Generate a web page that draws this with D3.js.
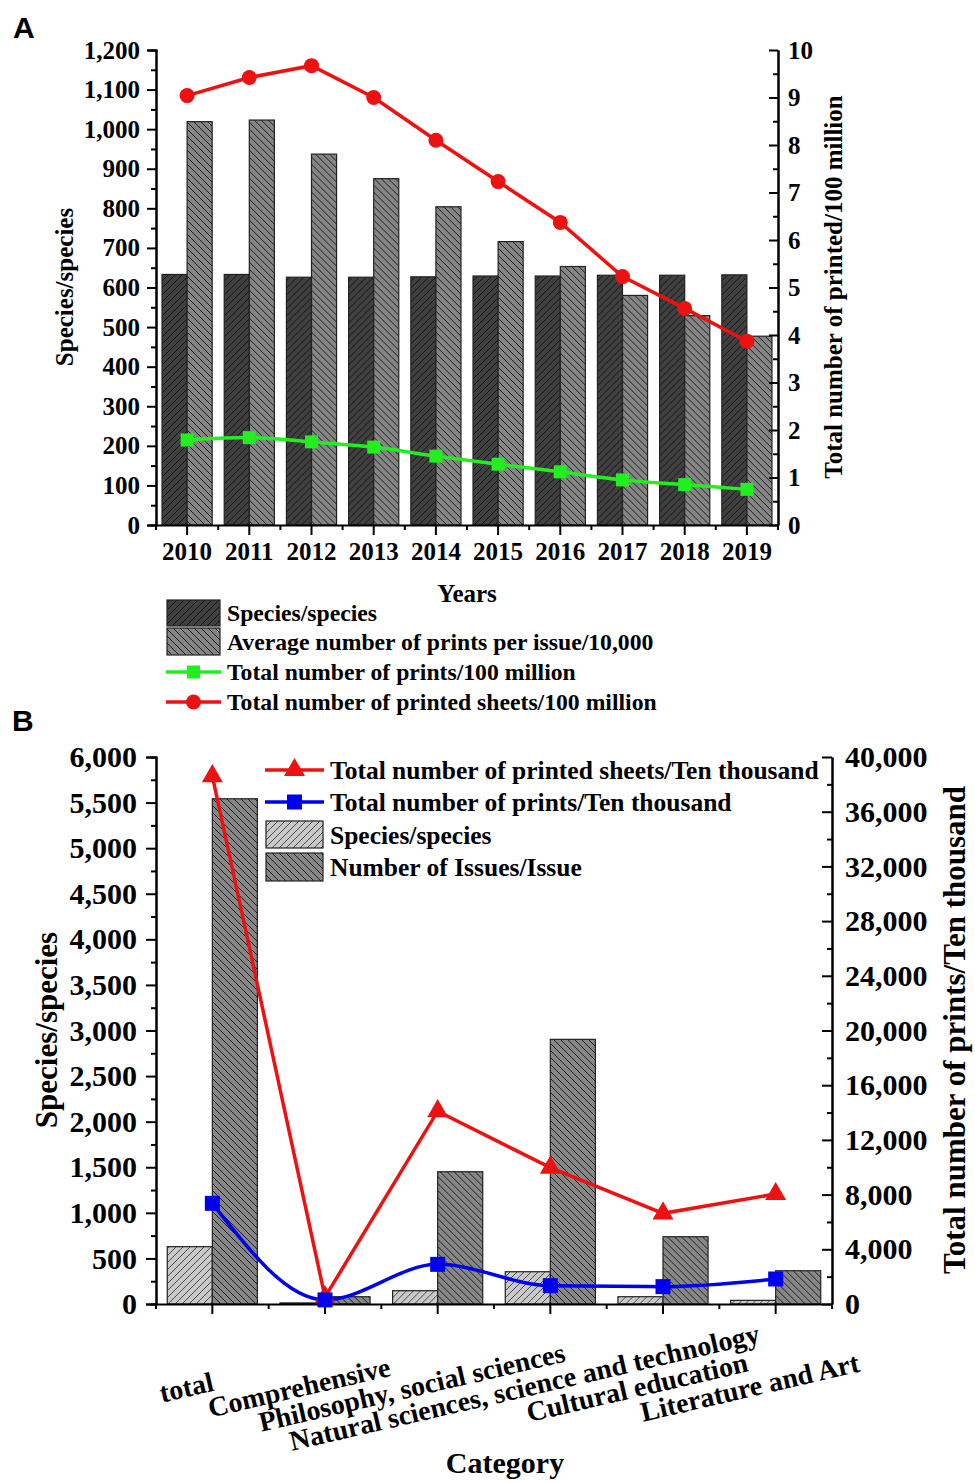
<!DOCTYPE html>
<html>
<head>
<meta charset="utf-8">
<script src="https://cdn.jsdelivr.net/npm/d3@7"></script>
<style>
body { margin: 0; background: #fff; }
svg { display: block; }
text { font-family: "Liberation Serif", "Times New Roman", serif; font-weight: bold; fill: #000; }
</style>
</head>
<body>
<svg id="chart" width="975" height="1483"></svg>
<script>
// ---- panel A data ----
var years = ["2010","2011","2012","2013","2014","2015","2016","2017","2018","2019"];
var speciesA = [633, 633, 626, 626, 627, 629, 629, 631, 631, 632];
var avgPrintsA = [1019, 1023, 937, 875, 804, 716, 653, 580, 529, 477];
var totalPrintsA = [1.79, 1.84, 1.75, 1.64, 1.45, 1.28, 1.12, 0.95, 0.85, 0.75];
var printedSheetsA = [9.04, 9.42, 9.67, 9.00, 8.10, 7.23, 6.37, 5.23, 4.56, 3.87];
var leftTicksA = [0,100,200,300,400,500,600,700,800,900,1000,1100,1200];
var rightTicksA = [0,1,2,3,4,5,6,7,8,9,10];

// ---- panel B data ----
var categories = ["total", "Comprehensive", "Philosophy, social sciences",
  "Natural sciences, science and technology", "Cultural education", "Literature and Art"];
var speciesB = [629, 12, 146, 354, 80, 40];
var issuesB = [5542, 80, 1451, 2903, 738, 365];
var printedSheetsB = [38600, 500, 14100, 9970, 6630, 8040];
var totalPrintsB = [7360, 300, 2900, 1340, 1270, 1830];
var leftTicksB = [0,500,1000,1500,2000,2500,3000,3500,4000,4500,5000,5500,6000];
var rightTicksB = [0,4000,8000,12000,16000,20000,24000,28000,32000,36000,40000];

var svg = d3.select("#chart");
var defs = svg.append("defs");

function hatch(id, bg, fg, size, forward) {
  var p = defs.append("pattern").attr("id", id)
    .attr("patternUnits", "userSpaceOnUse")
    .attr("width", size).attr("height", size);
  p.append("rect").attr("width", size).attr("height", size).attr("fill", bg);
  var d = forward
    ? "M-1,1 l2,-2 M0," + size + " l" + size + ",-" + size + " M" + (size - 1) + "," + (size + 1) + " l2,-2"
    : "M-1," + (size - 1) + " l2,2 M0,0 l" + size + "," + size + " M" + (size - 1) + ",-1 l2,2";
  p.append("path").attr("d", d).attr("stroke", fg).attr("stroke-width", 1);
}
hatch("hDarkA", "#404040", "#151515", 7, true);
hatch("hGreyA", "#858585", "#1e1e1e", 7, false);
hatch("hLightB", "#c9c9c9", "#4a4a4a", 7, true);
hatch("hGreyB", "#878787", "#1e1e1e", 7, false);

function styleAxis(g, fs) {
  g.selectAll(".domain").attr("stroke", "#000").attr("stroke-width", 2);
  g.selectAll(".tick line").attr("stroke", "#000").attr("stroke-width", 2);
  g.selectAll(".tick text").attr("font-size", fs)
    .attr("font-family", "Liberation Serif, Times New Roman, serif").attr("font-weight", "bold");
  g.attr("font-family", null).attr("font-size", null);
}
function minors(ticks) {
  var out = [];
  for (var i = 0; i < ticks.length - 1; i++) out.push((ticks[i] + ticks[i + 1]) / 2);
  return out;
}

// ================= PANEL A =================
var A = { left: 156, right: 778, top: 50, bottom: 525 };
var xA = d3.scaleBand().domain(years).range([A.left, A.right]);
var xA1 = d3.scaleBand().domain(["s", "a"]).range([0, xA.bandwidth()]).paddingOuter(0.24);
var yA = d3.scaleLinear().domain([0, 1200]).range([A.bottom, A.top]);
var yAR = d3.scaleLinear().domain([0, 10]).range([A.bottom, A.top]);

var gA = svg.append("g");
var barsA = gA.selectAll(".yr").data(years).enter().append("g")
  .attr("transform", function(d) { return "translate(" + xA(d) + ",0)"; });
barsA.append("rect")
  .attr("x", xA1("s")).attr("width", xA1.bandwidth())
  .attr("y", function(d, i) { return yA(speciesA[i]); })
  .attr("height", function(d, i) { return A.bottom - yA(speciesA[i]); })
  .attr("fill", "url(#hDarkA)").attr("stroke", "#222").attr("stroke-width", 1.2);
barsA.append("rect")
  .attr("x", xA1("a")).attr("width", xA1.bandwidth())
  .attr("y", function(d, i) { return yA(avgPrintsA[i]); })
  .attr("height", function(d, i) { return A.bottom - yA(avgPrintsA[i]); })
  .attr("fill", "url(#hGreyA)").attr("stroke", "#222").attr("stroke-width", 1.2);

// axes A
var axLA = gA.append("g").attr("transform", "translate(" + A.left + ",0)")
  .call(d3.axisLeft(yA).tickValues(leftTicksA).tickSize(9).tickPadding(7).tickFormat(d3.format(",")));
styleAxis(axLA, 25);
var axLAm = gA.append("g").attr("transform", "translate(" + A.left + ",0)")
  .call(d3.axisLeft(yA).tickValues(minors(leftTicksA)).tickSize(5).tickFormat(""));
styleAxis(axLAm, 25);
var axRA = gA.append("g").attr("transform", "translate(" + A.right + ",0)")
  .call(d3.axisRight(yAR).tickValues(rightTicksA).tickSizeInner(-9).tickSizeOuter(0).tickPadding(10));
styleAxis(axRA, 25);
var axRAm = gA.append("g").attr("transform", "translate(" + A.right + ",0)")
  .call(d3.axisRight(yAR).tickValues(minors(rightTicksA)).tickSizeInner(-5).tickSizeOuter(0).tickFormat(""));
styleAxis(axRAm, 25);
var axBA = gA.append("g").attr("transform", "translate(0," + A.bottom + ")")
  .call(d3.axisBottom(xA).tickSize(10).tickSizeOuter(0));
styleAxis(axBA, 25);
axBA.selectAll(".tick text").attr("dy", null).attr("y", 35);
var bndA = years.map(function(d) { return xA(d); }).concat([A.right]);
gA.selectAll(".mtA").data(bndA).enter().append("line")
  .attr("x1", function(d) { return d; }).attr("x2", function(d) { return d; })
  .attr("y1", A.bottom).attr("y2", A.bottom + 5).attr("stroke", "#000").attr("stroke-width", 2);

// lines A
var cx = function(d, i) { return xA(years[i]) + xA.bandwidth() / 2; };
var greenLine = d3.line().x(cx).y(function(d) { return yAR(d); }).curve(d3.curveMonotoneX);
var redLine = d3.line().x(cx).y(function(d) { return yAR(d); });
gA.append("path").attr("d", greenLine(totalPrintsA)).attr("fill", "none")
  .attr("stroke", "#22ee22").attr("stroke-width", 3.5);
gA.selectAll(".gsq").data(totalPrintsA).enter().append("rect")
  .attr("x", function(d, i) { return cx(d, i) - 6.5; }).attr("y", function(d) { return yAR(d) - 6.5; })
  .attr("width", 13).attr("height", 13).attr("fill", "#22ee22");
gA.append("path").attr("d", redLine(printedSheetsA)).attr("fill", "none")
  .attr("stroke", "#ee1111").attr("stroke-width", 3.5);
gA.selectAll(".rc").data(printedSheetsA).enter().append("circle")
  .attr("cx", cx).attr("cy", function(d) { return yAR(d); }).attr("r", 7.5).attr("fill", "#ee1111");

// titles A
svg.append("text").attr("x", 13).attr("y", 38).attr("font-size", 30)
  .style("font-family", "Liberation Sans, Arial, sans-serif").text("A");
svg.append("text").attr("transform", "translate(73,287) rotate(-90)")
  .attr("text-anchor", "middle").attr("font-size", 25).text("Species/species");
svg.append("text").attr("transform", "translate(842,287) rotate(-90)")
  .attr("text-anchor", "middle").attr("font-size", 25).text("Total number of printed/100 million");
svg.append("text").attr("x", 467).attr("y", 602).attr("text-anchor", "middle")
  .attr("font-size", 25).text("Years");

// legend A
var legA = svg.append("g");
legA.append("rect").attr("x", 167).attr("y", 600).attr("width", 53).attr("height", 26)
  .attr("fill", "url(#hDarkA)").attr("stroke", "#222").attr("stroke-width", 1.2);
legA.append("rect").attr("x", 167).attr("y", 628).attr("width", 53).attr("height", 27)
  .attr("fill", "url(#hGreyA)").attr("stroke", "#222").attr("stroke-width", 1.2);
legA.append("line").attr("x1", 166).attr("x2", 221).attr("y1", 672).attr("y2", 672)
  .attr("stroke", "#22ee22").attr("stroke-width", 3.5);
legA.append("rect").attr("x", 187).attr("y", 665.5).attr("width", 13).attr("height", 13).attr("fill", "#22ee22");
legA.append("line").attr("x1", 166).attr("x2", 221).attr("y1", 702).attr("y2", 702)
  .attr("stroke", "#ee1111").attr("stroke-width", 3.5);
legA.append("circle").attr("cx", 193.5).attr("cy", 702).attr("r", 7.5).attr("fill", "#ee1111");
var legAText = ["Species/species", "Average number of prints per issue/10,000",
  "Total number of prints/100 million", "Total number of printed sheets/100 million"];
var legAY = [613, 642, 672, 702];
legA.selectAll(".lt").data(legAText).enter().append("text")
  .attr("x", 227).attr("y", function(d, i) { return legAY[i]; }).attr("dy", "0.35em")
  .attr("font-size", 23.7).text(function(d) { return d; });

// ================= PANEL B =================
var B = { left: 156, right: 832, top: 757, bottom: 1304 };
var xB = d3.scaleBand().domain(categories).range([B.left, B.right]);
var xB1 = d3.scaleBand().domain(["s", "n"]).range([0, xB.bandwidth()]).paddingOuter(0.25);
var yB = d3.scaleLinear().domain([0, 6000]).range([B.bottom, B.top]);
var yBR = d3.scaleLinear().domain([0, 40000]).range([B.bottom, B.top]);

var gB = svg.append("g");
var barsB = gB.selectAll(".cat").data(categories).enter().append("g")
  .attr("transform", function(d) { return "translate(" + xB(d) + ",0)"; });
barsB.append("rect")
  .attr("x", xB1("s")).attr("width", xB1.bandwidth())
  .attr("y", function(d, i) { return yB(speciesB[i]); })
  .attr("height", function(d, i) { return B.bottom - yB(speciesB[i]); })
  .attr("fill", "url(#hLightB)").attr("stroke", "#222").attr("stroke-width", 1.2);
barsB.append("rect")
  .attr("x", xB1("n")).attr("width", xB1.bandwidth())
  .attr("y", function(d, i) { return yB(issuesB[i]); })
  .attr("height", function(d, i) { return B.bottom - yB(issuesB[i]); })
  .attr("fill", "url(#hGreyB)").attr("stroke", "#222").attr("stroke-width", 1.2);

var axLB = gB.append("g").attr("transform", "translate(" + B.left + ",0)")
  .call(d3.axisLeft(yB).tickValues(leftTicksB).tickSize(10).tickPadding(9).tickFormat(d3.format(",")));
styleAxis(axLB, 30);
var axLBm = gB.append("g").attr("transform", "translate(" + B.left + ",0)")
  .call(d3.axisLeft(yB).tickValues(minors(leftTicksB)).tickSize(5).tickFormat(""));
styleAxis(axLBm, 30);
var axRB = gB.append("g").attr("transform", "translate(" + B.right + ",0)")
  .call(d3.axisRight(yBR).tickValues(rightTicksB).tickSizeInner(-10).tickSizeOuter(0).tickPadding(13).tickFormat(d3.format(",")));
styleAxis(axRB, 30);
var axRBm = gB.append("g").attr("transform", "translate(" + B.right + ",0)")
  .call(d3.axisRight(yBR).tickValues(minors(rightTicksB)).tickSizeInner(-5).tickSizeOuter(0).tickFormat(""));
styleAxis(axRBm, 30);
var axBB = gB.append("g").attr("transform", "translate(0," + B.bottom + ")")
  .call(d3.axisBottom(xB).tickSize(10).tickSizeOuter(0).tickFormat(""));
styleAxis(axBB, 28);
var bndB = categories.map(function(d) { return xB(d); }).concat([B.right]);
gB.selectAll(".mtB").data(bndB).enter().append("line")
  .attr("x1", function(d) { return d; }).attr("x2", function(d) { return d; })
  .attr("y1", B.bottom).attr("y2", B.bottom + 5).attr("stroke", "#000").attr("stroke-width", 2);

// category labels, rotated
gB.selectAll(".cl").data(categories).enter().append("text")
  .attr("transform", function(d) {
    return "translate(" + (xB(d) + xB.bandwidth() / 2 - 26) + ",1387) rotate(-13)";
  })
  .attr("text-anchor", "middle").attr("dy", "0.35em").attr("font-size", 28)
  .text(function(d) { return d; });

// lines B
var cxB = function(d, i) { return xB(categories[i]) + xB.bandwidth() / 2; };
var blueLine = d3.line().x(cxB).y(function(d) { return yBR(d); }).curve(d3.curveMonotoneX);
var redLineB = d3.line().x(cxB).y(function(d) { return yBR(d); });
gB.append("path").attr("d", redLineB(printedSheetsB)).attr("fill", "none")
  .attr("stroke", "#ee1111").attr("stroke-width", 3.5);
gB.append("path").attr("d", blueLine(totalPrintsB)).attr("fill", "none")
  .attr("stroke", "#0000ee").attr("stroke-width", 3.5);
var tri = d3.symbol().type(d3.symbolTriangle).size(190);
gB.selectAll(".tri").data(printedSheetsB).enter().append("path")
  .attr("d", tri)
  .attr("transform", function(d, i) { return "translate(" + cxB(d, i) + "," + yBR(d) + ")"; })
  .attr("fill", "#ee1111");
gB.selectAll(".bsq").data(totalPrintsB).enter().append("rect")
  .attr("x", function(d, i) { return cxB(d, i) - 7.5; }).attr("y", function(d) { return yBR(d) - 7.5; })
  .attr("width", 15).attr("height", 15).attr("fill", "#0000ee");

// titles B
svg.append("text").attr("x", 12).attr("y", 731).attr("font-size", 30)
  .style("font-family", "Liberation Sans, Arial, sans-serif").text("B");
svg.append("text").attr("transform", "translate(57,1030) rotate(-90)")
  .attr("text-anchor", "middle").attr("font-size", 31).text("Species/species");
svg.append("text").attr("transform", "translate(965,1030) rotate(-90)")
  .attr("text-anchor", "middle").attr("font-size", 31).text("Total number of prints/Ten thousand");
svg.append("text").attr("x", 505).attr("y", 1473).attr("text-anchor", "middle")
  .attr("font-size", 30).text("Category");

// legend B
var legB = svg.append("g");
legB.append("line").attr("x1", 265).attr("x2", 324).attr("y1", 770).attr("y2", 770)
  .attr("stroke", "#ee1111").attr("stroke-width", 3.5);
legB.append("path").attr("d", tri).attr("transform", "translate(294.5,770)").attr("fill", "#ee1111");
legB.append("line").attr("x1", 265).attr("x2", 324).attr("y1", 802).attr("y2", 802)
  .attr("stroke", "#0000ee").attr("stroke-width", 3.5);
legB.append("rect").attr("x", 287).attr("y", 794.5).attr("width", 15).attr("height", 15).attr("fill", "#0000ee");
legB.append("rect").attr("x", 266).attr("y", 821).attr("width", 57).attr("height", 27)
  .attr("fill", "url(#hLightB)").attr("stroke", "#222").attr("stroke-width", 1.2);
legB.append("rect").attr("x", 266).attr("y", 853).attr("width", 57).attr("height", 28)
  .attr("fill", "url(#hGreyB)").attr("stroke", "#222").attr("stroke-width", 1.2);
var legBText = ["Total number of printed sheets/Ten thousand", "Total number of prints/Ten thousand",
  "Species/species", "Number of Issues/Issue"];
var legBY = [770, 802, 835, 867];
legB.selectAll(".lt").data(legBText).enter().append("text")
  .attr("x", 330).attr("y", function(d, i) { return legBY[i]; }).attr("dy", "0.35em")
  .attr("font-size", 25.5).text(function(d) { return d; });
</script>
</body>
</html>
